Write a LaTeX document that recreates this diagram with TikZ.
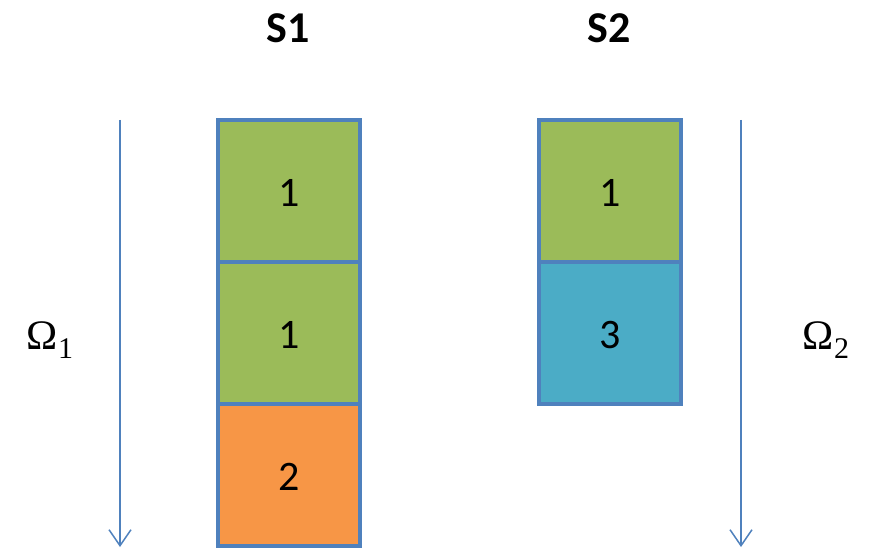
\documentclass[tikz,border=0pt]{standalone}
\usepackage{fontspec}
\setmainfont{Carlito}
\newfontfamily\omfont{Liberation Serif}
\usetikzlibrary{arrows.meta}
\definecolor{cgreen}{HTML}{9BBB59}
\definecolor{corange}{HTML}{F79646}
\definecolor{cblue}{HTML}{4BACC6}
\definecolor{cborder}{HTML}{4F81BD}
\tikzset{
  cell/.style={draw=cborder, line width=3.3pt, minimum width=142pt, minimum height=142pt, inner sep=0pt, outer sep=0pt, font=\fontsize{42}{48}\selectfont, anchor=north west, text depth=0pt, text height=31pt},
  flow/.style={draw=cborder, line width=1.5pt, -{Straight Barb[length=16pt,width=22pt,line width=1.5pt]}},
  head/.style={font=\fontsize{44}{50}\selectfont\bfseries},
  omega/.style={font=\omfont\fontsize{42}{48}\selectfont}
}
\newcommand{\omsub}[1]{\raisebox{-0.22em}{\fontsize{30}{34}\selectfont #1}}
\begin{document}
\begin{tikzpicture}[x=1pt,y=-1pt]
\useasboundingbox (0,0) rectangle (869,548);
\node[head] (s1) at (288,28) {S1};
\node[head] (s2) at (609,28) {S2};
\node[cell, fill=cgreen] (a1) at (218,120) {1};
\node[cell, fill=cgreen] (a2) at (218,262) {1};
\node[cell, fill=corange] (a3) at (218,404) {2};
\node[cell, fill=cgreen] (b1) at (539,120) {1};
\node[cell, fill=cblue] (b2) at (539,262) {3};
\coordinate (p1s) at (120,120);
\coordinate (p1e) at (120,547);
\coordinate (p2s) at (741,120);
\coordinate (p2e) at (741,547);
\draw[flow] (p1s) -- (p1e);
\draw[flow] (p2s) -- (p2e);
\node[omega] (o1) at (50,340) {Ω\omsub{1}};
\node[omega] (o2) at (826,340) {Ω\omsub{2}};
\end{tikzpicture}
\end{document}
